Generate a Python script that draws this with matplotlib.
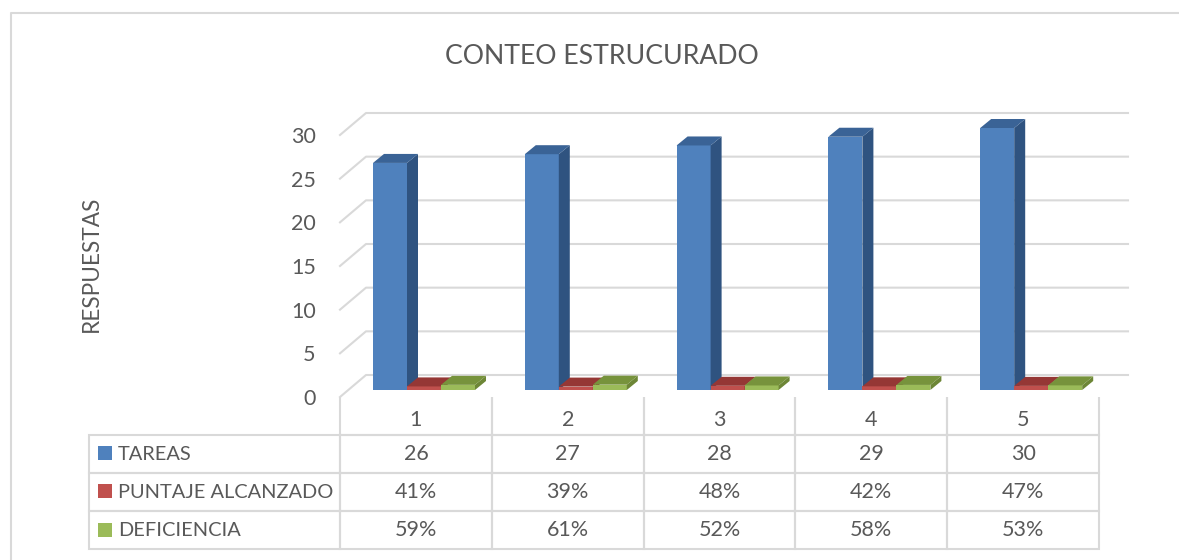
import matplotlib
matplotlib.use('Agg')
import matplotlib.pyplot as plt
from matplotlib.lines import Line2D
from matplotlib.patches import Rectangle
from matplotlib.table import Table

plt.rcParams['font.family'] = ['Lato', 'DejaVu Sans']

categories = ['1', '2', '3', '4', '5']
tareas = [26, 27, 28, 29, 30]
puntaje = [0.41, 0.39, 0.48, 0.42, 0.47]
deficiencia = [0.59, 0.61, 0.52, 0.58, 0.53]
puntaje_labels = ['41%', '39%', '48%', '42%', '47%']
deficiencia_labels = ['59%', '61%', '52%', '58%', '53%']
series_names = ['TAREAS', 'PUNTAJE ALCANZADO', 'DEFICIENCIA']
yticks = [0, 5, 10, 15, 20, 25, 30]

W, H = 1179, 560
TEXT = '#595959'
GRID = '#d9d9d9'
# front, side, top
COLORS = [('#4f81bd', '#2f5380', '#3a6396'),
          ('#c0504d', '#8f3533', '#953735'),
          ('#9bbb59', '#6d8636', '#77933c')]

# plot area: front plane of the 3D box, in pixels
X0, X1, Y0, Y1 = 340, 1099, 397, 135
PX = 5 / (X1 - X0)
PY = 30 / (Y0 - Y1)

fig = plt.figure(figsize=(W / 100, H / 100), dpi=100)
ax = fig.add_axes([X0 / W, 1 - Y0 / H, (X1 - X0) / W, (Y0 - Y1) / H])
ax.set_xlim(0, 5)
ax.set_ylim(0, 30)
for s in ax.spines.values():
    s.set_visible(False)
ax.patch.set_alpha(0)
ax.set_xticks([])
ax.set_yticks(yticks)
ax.tick_params(axis='y', length=0, pad=17.5, labelsize=15.5, labelcolor=TEXT)

# outer chart frame
fig.add_artist(Line2D([11 / W, 11 / W, 1], [0, 1 - 13 / H, 1 - 13 / H], color=GRID, lw=1.5))

# gridlines on back wall and slanted side wall
back_dx, back_dy = 26 * PX, 22 * PY
for v in yticks:
    ax.plot([0, back_dx, 5 + 29 * PX], [v, v + back_dy, v + back_dy],
            color=GRID, lw=1.5, clip_on=False, zorder=1)


def draw_bar(x, w, v, base, colors):
    front, side, top = colors
    dx, dy = 11 * PX, 9 * PY
    ax.bar(x, v, w, bottom=base, align='edge', color=front, zorder=3, clip_on=False)
    ax.fill([x + w, x + w + dx, x + w + dx, x + w],
            [base, base + dy, base + v + dy, base + v], color=side, lw=0, zorder=3, clip_on=False)
    ax.fill([x, x + dx, x + w + dx, x + w],
            [base + v, base + v + dy, base + v + dy, base + v], color=top, lw=0, zorder=3, clip_on=False)


bar_w = 34 * PX
start = 33 * PX
base = 7 * PY
for i in range(len(categories)):
    for j, vals in enumerate([tareas, puntaje, deficiencia]):
        draw_bar(i + start + j * bar_w, bar_w, vals[i], base, COLORS[j])

# data table below the plot, first column holds the legend
rows = [[''] * 6,
        [series_names[0]] + [str(v) for v in tareas],
        [series_names[1]] + puntaje_labels,
        [series_names[2]] + deficiencia_labels]
col_w = [251 / 1010] + [759 / 5 / 1010] * 5
table = Table(ax, bbox=[-251 / 759, (Y0 - 549) / (Y0 - Y1), 1010 / 759, 152 / (Y0 - Y1)])
for r, row in enumerate(rows):
    for c, txt in enumerate(row):
        cell = table.add_cell(r, c, col_w[c], 0.25, text=txt, loc='left' if c == 0 else 'center',
                              edgecolor=GRID, facecolor='none')
        cell.set_linewidth(1.5)
        cell.get_text().set_color(TEXT)
        if c == 0:
            cell.PAD = 29 / 251
        if r == 0:
            cell.visible_edges = 'open' if c == 0 else 'LRB'
table.auto_set_font_size(False)
table.set_fontsize(15.5)
for r in range(len(rows)):
    table[r, 0].set_fontsize(14.4)
table.set_zorder(2)
ax.add_table(table)

# category labels sit low in the header row
for i, cat in enumerate(categories):
    ax.text(i + 0.5, (Y0 - 420) * PY, cat, ha='center', va='center', fontsize=15.5,
            color=TEXT, clip_on=False)

# legend keys in the table
for j, y in enumerate([453, 491, 530]):
    ax.add_patch(Rectangle(((98 - X0) * PX, (Y0 - y - 7) * PY), 14 * PX, 14 * PY,
                           clip_on=False, zorder=4, facecolor=COLORS[j][0], edgecolor='none'))

fig.text(602 / W, 1 - 56.5 / H, 'CONTEO ESTRUCURADO', ha='center', va='center', fontsize=19.2, color=TEXT)
fig.text(91 / W, 1 - 264 / H, 'RESPUESTAS', ha='center', va='center', rotation=90, fontsize=16.3, color=TEXT)

fig.savefig('out.png', dpi=100)
